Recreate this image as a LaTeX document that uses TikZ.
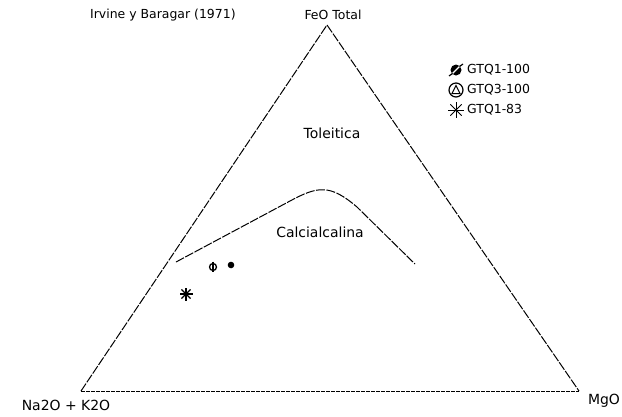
\documentclass[tikz,border=0pt]{standalone}
\usepackage{fontspec}
\setmainfont{DejaVu Sans}
\usetikzlibrary{calc}
\begin{document}
\begin{tikzpicture}[x=1bp,y=-1bp,
	side/.style={line width=1pt,dash pattern=on 9bp off 1.5bp},
	base/.style={line width=.7pt,dash pattern=on 4bp off 1bp},
	lbl/.style={inner sep=0pt,font=\fontsize{14}{16}\selectfont},
	small/.style={inner sep=0pt,font=\fontsize{12.5}{14}\selectfont}]
	\useasboundingbox (0,0) rectangle (622,416);
	% triangle
	\coordinate (feo) at (327,25);
	\coordinate (alk) at (81,391);
	\coordinate (mgo) at (579,391);
	\draw[side] (alk) -- (feo) -- (mgo);
	\draw[base] (alk) -- (mgo);
	\node[small,anchor=west] (title) at (90,15) {Irvine y Baragar (1971)};
	\node[small] (feolbl) at (333,15) {FeO Total};
	\node[lbl] (alklbl) at (66,405) {Na2O + K2O};
	\node[lbl] (mgolbl) at (604,401) {MgO};
	% dividing line
	\draw[side] (176,262) -- (290,201) .. controls (318,186) and (330,184) .. (357,207) -- (415,264);
	\node[lbl] (tol) at (332,133) {Toleitica};
	\node[lbl] (calc) at (320,232) {Calcialcalina};
	% legend
	\coordinate (s1) at (456,70);
	\coordinate (s2) at (456,90);
	\coordinate (s3) at (456,110);
	\fill (s1) circle (5.5);
	\draw[white,line width=1.2pt] ($(s1)+(-3.5,3.5)$) -- ($(s1)+(3.5,-3.5)$);
	\draw[line width=1.2pt] ($(s1)+(-7,6)$) -- ($(s1)+(-3.5,3.5)$) ($(s1)+(3.5,-3.5)$) -- ($(s1)+(7,-6)$);
	\draw[line width=1.2pt] (s2) circle (7);
	\draw[line width=1pt] ($(s2)+(-4,3.5)$) -- ($(s2)+(0,-4.5)$) -- ($(s2)+(4,3.5)$) -- cycle;
	\foreach \a in {0,45,...,315}
		\draw[line width=.9pt] (s3) -- ++(\a:8);
	\node[small,anchor=west] (g1) at (467,70) {GTQ1-100};
	\node[small,anchor=west] (g2) at (467,90) {GTQ3-100};
	\node[small,anchor=west] (g3) at (467,110) {GTQ1-83};
	% samples
	\coordinate (p1) at (213,267);
	\coordinate (p2) at (231,265);
	\coordinate (p3) at (186,294);
	\draw[line width=1.3pt] (p1) circle (3.5);
	\draw[line width=1.2pt] ($(p1)+(0,-5.5)$) -- ($(p1)+(0,4.5)$);
	\fill (p2) circle (3.3);
	\foreach \a in {0,45,...,315}
		\draw[line width=1.1pt] (p3) -- ++(\a:6.5);
\end{tikzpicture}
\end{document}
